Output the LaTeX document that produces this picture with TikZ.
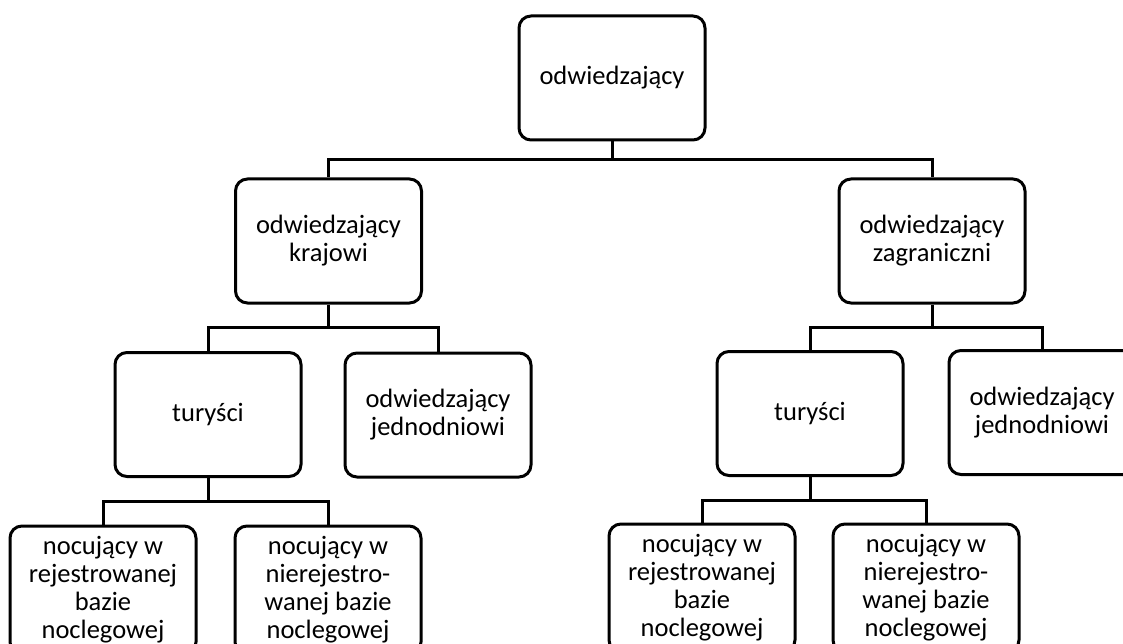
\documentclass[tikz,border=0pt]{standalone}
\usepackage{fontspec}
\setmainfont{Carlito}
\begin{document}
\begin{tikzpicture}[x=1pt,y=-1pt,
  box/.style={draw, line width=3pt, rounded corners=12pt, minimum width=186pt, minimum height=124pt, align=center, inner sep=0pt, font=\fontsize{26.5}{28}\selectfont},
  bus/.style={line width=3pt}]
\useasboundingbox (0,0) rectangle (1123,644);
\node[box] (top) at (612,78) {odwiedzający};
\node[box] (kr) at (328.5,241) {odwiedzający\\krajowi};
\node[box] (za) at (932,241) {odwiedzający\\zagraniczni};
\node[box] (lt) at (208,414.5) {turyści};
\node[box] (lj) at (438,415) {odwiedzający\\jednodniowi};
\node[box] (rt) at (810,413.5) {turyści};
\node[box] (rj) at (1042,412.5) {odwiedzający\\jednodniowi};
\node[box, minimum height=128pt] (lb1) at (103,590) {nocujący w\\rejestrowanej\\bazie\\noclegowej};
\node[box, minimum height=128pt] (lb2) at (328,590) {nocujący w\\nierejestro-\\wanej bazie\\noclegowej};
\node[box, minimum height=128pt] (rb1) at (702,588) {nocujący w\\rejestrowanej\\bazie\\noclegowej};
\node[box, minimum height=128pt] (rb2) at (926,588) {nocujący w\\nierejestro-\\wanej bazie\\noclegowej};
\coordinate (b1) at (612,160);
\coordinate (b2) at (0,327);
\coordinate (b3) at (0,501);
\coordinate (b4) at (0,500);
\draw[bus] (top.south) -- (b1);
\draw[bus] (b1) -| (kr.north);
\draw[bus] (b1) -| (za.north);
\draw[bus] (kr.south) -- (kr.south |- b2) -| (lt.north);
\draw[bus] (kr.south |- b2) -| (lj.north);
\draw[bus] (za.south) -- (za.south |- b2) -| (rt.north);
\draw[bus] (za.south |- b2) -| (rj.north);
\draw[bus] (lt.south) -- (lt.south |- b3) -| (lb1.north);
\draw[bus] (lt.south |- b3) -| (lb2.north);
\draw[bus] (rt.south) -- (rt.south |- b4) -| (rb1.north);
\draw[bus] (rt.south |- b4) -| (rb2.north);
\end{tikzpicture}
\end{document}
